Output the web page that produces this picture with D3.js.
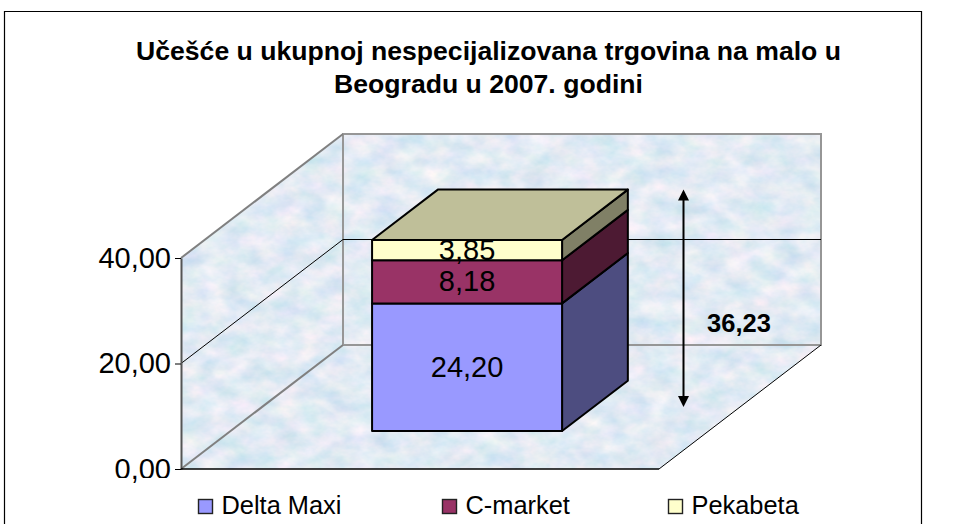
<!DOCTYPE html>
<html>
<head>
<meta charset="utf-8">
<script src="https://cdn.jsdelivr.net/npm/d3@7"></script>
<style>
	html, body { margin: 0; padding: 0; background: #fff; }
	svg { display: block; font-family: "Liberation Sans", Arial, sans-serif; }
</style>
</head>
<body>
<div id="chart"></div>
<script>
var categories = ['2007'];
var seriesNames = ['Delta Maxi', 'C-market', 'Pekabeta'];
var seriesValues = [24.20, 8.18, 3.85];
var totalValue = 36.23;
var yTicks = [0, 20, 40];
var titleLines = ['Učešće u ukupnoj nespecijalizovana trgovina na malo u', 'Beogradu u 2007. godini'];
var frontColors = ['#9999ff', '#993366', '#ffffcc'];
var sideColors = ['#4d4d80', '#4d1a33', '#808066'];
var topColor = '#bfbf99';

var width = 958, height = 524;
var comma = function(v) { return d3.format('.2f')(v).replace('.', ','); };

var svg = d3.select('#chart').append('svg').attr('width', width).attr('height', height);
var defs = svg.append('defs');

// mottled wall texture
var filter = defs.append('filter').attr('id', 'marble')
	.attr('x', 0).attr('y', 0).attr('width', '100%').attr('height', '100%')
	.attr('color-interpolation-filters', 'sRGB');
filter.append('feTurbulence').attr('type', 'fractalNoise')
	.attr('baseFrequency', '0.04 0.06').attr('numOctaves', 4).attr('seed', 7);
filter.append('feColorMatrix').attr('type', 'matrix').attr('values',
	'0.28 0 0 0 0.745  0.10 0.06 0 0 0.84  0.05 0 0.05 0 0.905  0 0 0 0 1');

// chart frame
svg.append('path').attr('d', 'M4.5,524V11.5H921.5V524')
	.attr('fill', 'none').attr('stroke', '#000').attr('stroke-width', 1.2);

var x = d3.scaleBand().domain(categories).range([181, 659]);
var y = d3.scaleLinear().domain([0, 40]).range([469, 258]);
// depth axis: 0 at the front edge, 1 at the back wall
var depthX = d3.scaleLinear().domain([0, 1]).range([0, 162]);
var depthY = d3.scaleLinear().domain([0, 1]).range([0, -124]);

function project(px, value, z) {
	return [px + depthX(z), y(value) + depthY(z)];
}
function poly(points) {
	return 'M' + points.map(function(p) { return p.join(','); }).join('L') + 'Z';
}

var x0 = x.range()[0], x1 = x.range()[1];
var top_ = yTicks[yTicks.length - 1];

var walls = [
	[project(x0, 0, 1), project(x1, 0, 1), project(x1, top_, 1), project(x0, top_, 1)],
	[project(x0, 0, 0), project(x0, 0, 1), project(x0, top_, 1), project(x0, top_, 0)],
	[project(x0, 0, 0), project(x1, 0, 0), project(x1, 0, 1), project(x0, 0, 1)]
];
defs.append('clipPath').attr('id', 'wallClip').selectAll('path').data(walls).enter()
	.append('path').attr('d', poly);

svg.append('g').attr('clip-path', 'url(#wallClip)')
	.append('rect').attr('x', 170).attr('y', 125).attr('width', 660).attr('height', 350)
	.attr('filter', 'url(#marble)');

// wall outlines
svg.append('path').attr('d', poly(walls[0])).attr('fill', 'none').attr('stroke', '#969696').attr('stroke-width', 2);
svg.append('path').attr('d', 'M' + project(x0, top_, 0).join(',') + 'L' + project(x0, top_, 1).join(','))
	.attr('stroke', '#808080').attr('stroke-width', 2);
svg.append('path').attr('d', 'M' + project(x0, 0, 0).join(',') + 'L' + project(x0, 0, 1).join(','))
	.attr('stroke', '#808080').attr('stroke-width', 2);
svg.append('path').attr('d', 'M' + project(x1, 0, 0).join(',') + 'L' + project(x1, 0, 1).join(','))
	.attr('stroke', '#000').attr('stroke-width', 1);

// gridlines at the inner ticks
yTicks.slice(1, -1).forEach(function(t) {
	svg.append('path').attr('fill', 'none').attr('stroke', '#000').attr('stroke-width', 1)
		.attr('d', 'M' + project(x0, t, 0).join(',') + 'L' + project(x0, t, 1).join(',') + 'L' + project(x1, t, 1).join(','));
});

// y axis, labels cut off by the legend area like the original (the comma tail survives)
var axisClip = defs.append('clipPath').attr('id', 'axisClip');
axisClip.append('rect').attr('x', -181).attr('y', 0).attr('width', width).attr('height', 478);
axisClip.append('rect').attr('x', -51).attr('y', 478).attr('width', 9).attr('height', 7);
var yAxis = svg.append('g').attr('transform', 'translate(181,0)').attr('clip-path', 'url(#axisClip)')
	.call(d3.axisLeft(y).tickValues(yTicks).tickSize(6).tickSizeOuter(0).tickPadding(4).tickFormat(comma));
yAxis.selectAll('text').attr('font-size', 29).attr('fill', '#000')
	.attr('font-family', '"Liberation Sans", Arial, sans-serif');
yAxis.selectAll('line').attr('stroke', '#000');
yAxis.select('.domain').attr('stroke', '#555').attr('stroke-width', 2);
svg.append('path').attr('d', 'M' + project(x0, 0, 0).join(',') + 'L' + project(x1, 0, 0).join(','))
	.attr('stroke', '#000').attr('stroke-width', 1.5);

// stacked 3d bar
var barX0 = x0 + 141.5, barX1 = barX0 + 190;
var zFront = 0.306, zBack = 0.712;
var stack = d3.stack().keys(seriesNames)([
	Object.fromEntries(seriesNames.map(function(n, i) { return [n, seriesValues[i]]; }))
]);
var bar = svg.append('g').attr('stroke', '#000').attr('stroke-width', 2).attr('stroke-linejoin', 'round');
stack.forEach(function(layer, i) {
	var a = layer[0][0], b = layer[0][1];
	bar.append('path').attr('fill', sideColors[i]).attr('d', poly([
		project(barX1, a, zFront), project(barX1, a, zBack), project(barX1, b, zBack), project(barX1, b, zFront)
	]));
	bar.append('path').attr('fill', frontColors[i]).attr('d', poly([
		project(barX0, a, zFront), project(barX1, a, zFront), project(barX1, b, zFront), project(barX0, b, zFront)
	]));
});
var stackTop = stack[stack.length - 1][0][1];
bar.append('path').attr('fill', topColor).attr('d', poly([
	project(barX0, stackTop, zFront), project(barX1, stackTop, zFront), project(barX1, stackTop, zBack), project(barX0, stackTop, zBack)
]));

// value labels
stack.forEach(function(layer, i) {
	var mid = (layer[0][0] + layer[0][1]) / 2;
	var p = project((barX0 + barX1) / 2, mid, zFront);
	svg.append('text').attr('x', p[0]).attr('y', p[1] - 1).attr('dy', '0.36em')
		.attr('text-anchor', 'middle').attr('font-size', 29).attr('fill', '#000')
		.text(comma(seriesValues[i]));
});

// total arrow
var arrowX = 683.5;
var arrowTop = project(0, stackTop, zBack)[1];
var arrowBottom = 407;
svg.append('path').attr('d', 'M' + arrowX + ',' + (arrowTop + 4) + 'V' + (arrowBottom - 4))
	.attr('stroke', '#000').attr('stroke-width', 2);
svg.append('path').attr('fill', '#000').attr('d', poly([[arrowX, arrowTop], [arrowX + 5.5, arrowTop + 11], [arrowX - 5.5, arrowTop + 11]]));
svg.append('path').attr('fill', '#000').attr('d', poly([[arrowX, arrowBottom], [arrowX + 5.5, arrowBottom - 11], [arrowX - 5.5, arrowBottom - 11]]));
svg.append('text').attr('x', 739).attr('y', 332).attr('text-anchor', 'middle')
	.attr('font-size', 25.5).attr('font-weight', 'bold').attr('fill', '#000').text(comma(totalValue));

// title
svg.selectAll('.title').data(titleLines).enter().append('text').attr('class', 'title')
	.attr('x', 488.5).attr('y', function(d, i) { return 60 + i * 33; })
	.attr('text-anchor', 'middle').attr('font-size', 26.6).attr('font-weight', 'bold').attr('fill', '#000')
	.text(function(d) { return d; });

// legend
var legendX = d3.scaleOrdinal().domain(seriesNames).range([198, 442, 668]);
var legend = svg.selectAll('.legend').data(seriesNames).enter().append('g').attr('class', 'legend')
	.attr('transform', function(d) { return 'translate(' + legendX(d) + ',499)'; });
legend.append('rect').attr('x', 0.5).attr('y', 0.5).attr('width', 14).attr('height', 14)
	.attr('fill', function(d, i) { return frontColors[i]; })
	.attr('stroke', '#222').attr('stroke-width', 1.4);
legend.append('text').attr('x', 23.5).attr('y', 14.5).attr('font-size', 25.4).attr('fill', '#000')
	.text(function(d) { return d; });
</script>
</body>
</html>
